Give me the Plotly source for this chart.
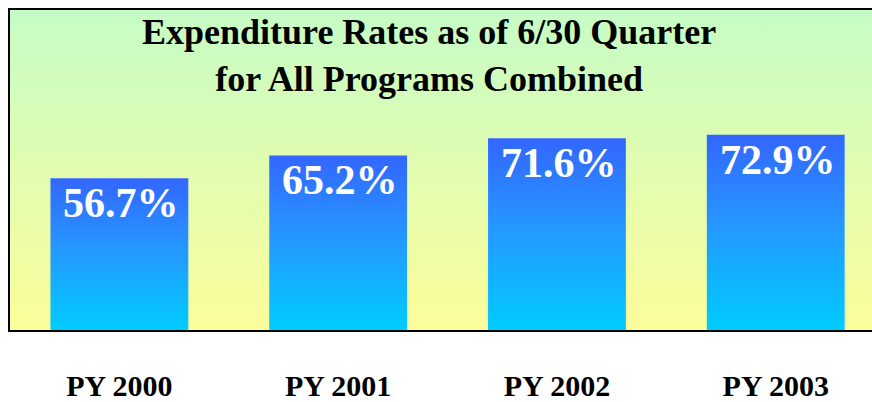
import plotly.graph_objects as go

categories = ["PY 2000", "PY 2001", "PY 2002", "PY 2003"]
values = [56.7, 65.2, 71.6, 72.9]
labels = ["56.7%", "65.2%", "71.6%", "72.9%"]
title_text = "Expenditure Rates as of 6/30 Quarter<br>for All Programs Combined"

Y_MAX = 119.5
X_RANGE = [-0.5, 3.44]
HALF_W = 0.315
SERIF = "Liberation Serif, Times New Roman, serif"

fig = go.Figure()

# gradient backdrop of the plot area
fig.add_trace(go.Scatter(
    x=[X_RANGE[0] - 1, X_RANGE[1] + 1, X_RANGE[1] + 1, X_RANGE[0] - 1, X_RANGE[0] - 1],
    y=[0, 0, Y_MAX, Y_MAX, 0],
    mode="lines", line=dict(width=0), fill="toself",
    fillgradient=dict(type="vertical",
                      colorscale=[[0, "#FCFD9A"], [1, "#C6FCC6"]]),
    hoverinfo="skip", showlegend=False,
))

# bars with vertical gradient
for i, v in enumerate(values):
    fig.add_trace(go.Scatter(
        x=[i - HALF_W, i + HALF_W, i + HALF_W, i - HALF_W, i - HALF_W],
        y=[0, 0, v, v, 0],
        mode="lines", line=dict(width=0), fill="toself",
        fillgradient=dict(type="vertical",
                          colorscale=[[0, "#00CCFF"], [0.55, "#2696FF"], [1, "#3366FF"]]),
        hoverinfo="skip", showlegend=False,
    ))
    fig.add_annotation(x=i, y=v, text=labels[i], showarrow=False,
                       yanchor="top", yshift=0, xshift=2,
                       font=dict(family=SERIF, size=42, color="white", weight="bold"))

fig.add_annotation(xref="paper", yref="paper", x=0.486, y=1, yanchor="top",
                   yshift=0, text=title_text, showarrow=False,
                   font=dict(family=SERIF, size=36, color="black", weight="bold"))

fig.update_layout(
    width=872, height=402,
    margin=dict(l=10, r=0, t=10, b=65),
    paper_bgcolor="white", plot_bgcolor="white",
    showlegend=False,
)
fig.update_xaxes(range=X_RANGE, tickvals=list(range(len(categories))), ticktext=categories,
                 showgrid=False, zeroline=False, showline=True, linecolor="black",
                 linewidth=2, mirror=True, ticks="", ticklabelstandoff=28,
                 tickfont=dict(family=SERIF, size=30, color="black", weight="bold"))
fig.update_yaxes(range=[0, Y_MAX], showgrid=False, zeroline=False, showline=True,
                 linecolor="black", linewidth=2, showticklabels=False, ticks="")

# remove the default page margin so the figure sits at the window's top-left corner
fig.write_html("out.html", config={"displayModeBar": False},
               post_script="document.body.style.margin='0';")
